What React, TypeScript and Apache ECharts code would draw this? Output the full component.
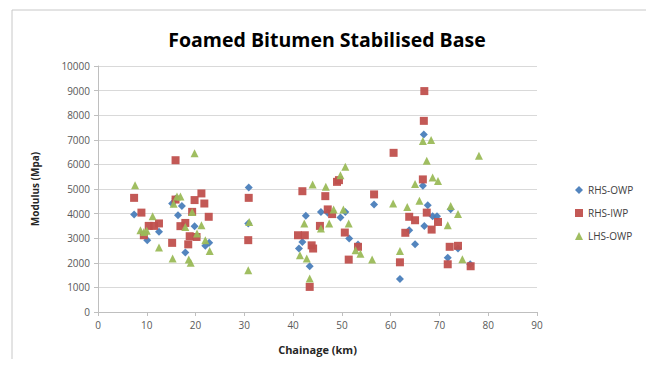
import React, { useEffect, useRef } from "react";
import * as echarts from "echarts";

const seriesNames = ["RHS-OWP", "RHS-IWP", "LHS-OWP"];
const colors = ["#4a7ebb", "#c0504d", "#9bbb59"];

const rhsOwp: [number, number][] = [
  [7.4, 3960], [10.1, 2920], [12.5, 3260], [15.2, 4410], [15.9, 4600], [17.2, 4310],
  [16.4, 3930], [19.8, 3490], [17.9, 2420], [22.0, 2690], [22.8, 2810], [30.9, 5060],
  [30.8, 3600], [42.6, 3910], [41.9, 2850], [41.2, 2580], [43.4, 1860], [45.7, 4070],
  [47.1, 4030], [49.7, 3840], [50.7, 4070], [51.5, 2990], [53.3, 2740], [56.6, 4370],
  [61.9, 1340], [66.8, 7220], [66.6, 5130], [67.6, 4340], [68.6, 3890], [69.5, 3890],
  [66.9, 3500], [63.8, 3320], [65.0, 2750], [72.3, 4180], [71.7, 2210], [73.8, 2580],
  [76.3, 1940],
];

const rhsIwp: [number, number][] = [
  [7.4, 4640], [15.9, 6170], [8.9, 4040], [9.4, 3120], [10.4, 3500], [11.5, 3500],
  [12.5, 3600], [15.2, 2810], [21.2, 4820], [19.8, 4550], [21.8, 4410], [22.7, 3870],
  [19.3, 4070], [16.9, 3490], [17.9, 3620], [18.8, 3080], [18.5, 2750], [20.2, 3050],
  [15.9, 4570], [30.9, 4640], [30.8, 2920], [41.9, 4910], [46.6, 4710], [49.0, 5290],
  [49.4, 5360], [60.6, 6470], [41.0, 3120], [42.4, 3120], [43.8, 2710], [44.1, 2580],
  [45.5, 3500], [47.1, 4170], [48.0, 3980], [50.6, 3230], [53.3, 2650], [51.4, 2130],
  [56.6, 4780], [43.4, 1020], [66.9, 8980], [66.8, 7770], [66.6, 5390], [67.4, 4040],
  [63.8, 3870], [65.0, 3730], [63.0, 3220], [68.4, 3350], [69.7, 3660], [72.1, 2650],
  [73.8, 2690], [61.9, 2020], [71.7, 1940], [76.4, 1860],
];

const lhsOwp: [number, number][] = [
  [7.6, 5150], [19.8, 6450], [11.2, 3890], [8.7, 3320], [9.4, 3250], [10.0, 3300],
  [12.5, 2620], [15.3, 2170], [18.6, 2130], [19.0, 2000], [16.2, 4700], [16.9, 4700],
  [15.5, 4400], [19.3, 4070], [17.9, 3460], [21.2, 3530], [20.3, 3190], [22.0, 2920],
  [22.9, 2480], [31.0, 3660], [30.8, 1700], [44.0, 5180], [46.7, 5090], [49.7, 5560],
  [50.7, 5900], [42.3, 3600], [41.4, 2310], [42.8, 2170], [43.4, 1360], [45.7, 3390],
  [47.4, 3600], [48.3, 4170], [50.3, 4170], [51.4, 3600], [52.8, 2510], [53.8, 2370],
  [56.2, 2130], [60.5, 4410], [66.6, 6950], [68.3, 6990], [67.4, 6150], [78.1, 6350],
  [65.0, 5200], [68.6, 5470], [69.7, 5330], [63.4, 4270], [65.9, 4520], [72.3, 4310],
  [73.8, 3980], [71.7, 3530], [61.9, 2480], [74.7, 2140],
];

const allData = [rhsOwp, rhsIwp, lhsOwp];
const symbols = ["diamond", "rect", "triangle"];
const symbolSizes = [8, 8, 8];

const FONT = "'Open Sans', 'Noto Sans', sans-serif";

export default function App() {
  const ref = useRef<HTMLDivElement>(null);
  useEffect(() => {
    if (!ref.current) return;
    const chart = echarts.init(ref.current, null, { renderer: "svg" });
    chart.setOption({
      animation: false,
      backgroundColor: "#ffffff",
      title: {
        text: "Foamed Bitumen Stabilised Base",
        left: "center",
        top: 24,
        textStyle: { fontFamily: FONT, fontSize: 19.5, fontWeight: "bold", color: "#000" },
      },
      graphic: [
        {
          type: "rect",
          shape: { x: 12, y: 10, width: 637, height: 356 },
          style: { fill: "none", stroke: "#c8c8c8", lineWidth: 1 },
          silent: true,
        },
      ],
      legend: {
        orient: "vertical",
        left: 570,
        top: 180,
        itemGap: 13,
        itemWidth: 8,
        itemHeight: 8,
        textStyle: { fontFamily: FONT, fontSize: 10, color: "#404040" },
        data: seriesNames.map((n, i) => ({ name: n, icon: symbols[i] })),
      },
      grid: { left: 98, right: 117, top: 66, bottom: 55 },
      xAxis: {
        type: "value",
        min: 0,
        max: 90,
        interval: 10,
        name: "Chainage (km)",
        nameLocation: "middle",
        nameGap: 32,
        nameTextStyle: { fontFamily: FONT, fontSize: 11, fontWeight: "bold", color: "#262626" },
        axisLine: { show: true, lineStyle: { color: "#bfbfbf" } },
        axisTick: { show: true, length: 4, lineStyle: { color: "#bfbfbf" } },
        axisLabel: { fontFamily: FONT, fontSize: 10, color: "#595959", margin: 8 },
        splitLine: { show: false },
      },
      yAxis: {
        type: "value",
        min: 0,
        max: 10000,
        interval: 1000,
        name: "Modulus (Mpa)",
        nameLocation: "middle",
        nameGap: 58,
        nameRotate: 90,
        nameTextStyle: { fontFamily: FONT, fontSize: 10, fontWeight: "bold", color: "#262626" },
        axisLine: { show: true, lineStyle: { color: "#bfbfbf" } },
        axisTick: { show: true, length: 4, inside: false, lineStyle: { color: "#bfbfbf" } },
        axisLabel: {
          fontFamily: FONT,
          fontSize: 10,
          color: "#595959",
          margin: 8,
          formatter: (v: number) => String(v),
        },
        splitLine: { show: true, lineStyle: { color: "#d9d9d9", width: 1 } },
      },
      series: seriesNames.map((name, i) => ({
        name,
        type: "scatter",
        symbol: symbols[i],
        symbolSize: symbolSizes[i],
        itemStyle: { color: colors[i], opacity: 0.95 },
        data: allData[i],
      })),
    });
    return () => chart.dispose();
  }, []);
  return <div ref={ref} style={{ width: 654, height: 367, margin: -8 }} />;
}
